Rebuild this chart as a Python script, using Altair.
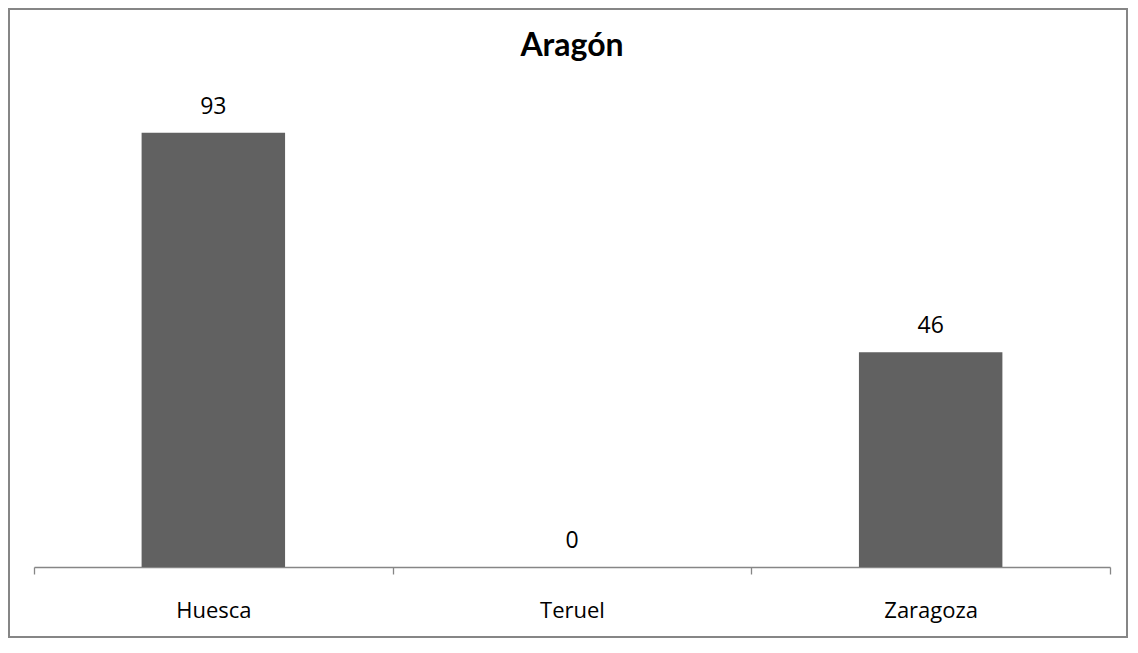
import altair as alt
import pandas as pd

provincias = ["Huesca", "Teruel", "Zaragoza"]
valores = [93, 0, 46]
titulo = "Aragón"

df = pd.DataFrame({"provincia": provincias, "valor": valores})
df_title = pd.DataFrame({"t": [titulo]})

x_enc = alt.X(
    "provincia:N",
    sort=provincias,
    title=None,
    scale=alt.Scale(range=[25, 1101], paddingInner=0, paddingOuter=0),
    axis=alt.Axis(
        orient="bottom",
        offset=-70,
        tickBand="extent",
        labelAngle=0,
        labelFont="Open Sans",
        labelFontSize=22,
        labelColor="#000000",
        labelBaseline="middle",
        labelPadding=36,
        tickSize=7,
        tickColor="#868686",
        tickWidth=1.3,
        domainColor="#868686",
        domainWidth=1.3,
        grid=False,
    ),
)
y_enc = alt.Y(
    "valor:Q",
    scale=alt.Scale(domain=[0, 100], range=[558, 91]),
    axis=None,
)

bars = alt.Chart(df).mark_bar(color="#616161", width=alt.RelativeBandSize(0.4)).encode(
    x=x_enc, y=y_enc
)
labels = alt.Chart(df).mark_text(
    font="Open Sans", fontSize=23, color="#000000", baseline="alphabetic", dy=-19
).encode(x=x_enc, y=y_enc, text="valor:Q")

title_txt = alt.Chart(df_title).mark_text(
    font="Lato", fontSize=32, fontWeight="bold", color="#000000", baseline="alphabetic"
).encode(x=alt.value(563), y=alt.value(47), text="t:N")

chart = (
    alt.layer(bars, labels, title_txt)
    .properties(
        width=1118,
        height=628,
        padding={"left": 1, "top": 1, "right": 1, "bottom": 1},
        autosize=alt.AutoSizeParams(type="none"),
    )
    .configure(
        background="white",
        view=alt.ViewConfig(stroke="#868686", strokeWidth=2),
    )
)

chart.save("out.html", embed_options={"renderer": "svg", "actions": False})
